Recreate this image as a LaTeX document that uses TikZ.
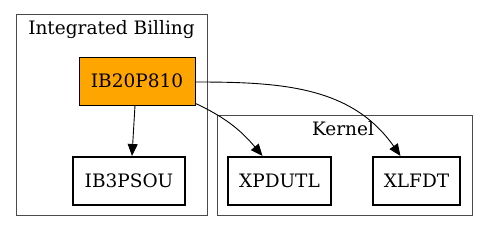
\documentclass[tikz,border=0pt]{standalone}
\usepackage{fontspec}
\setmainfont{DejaVu Serif}
\usepackage{xcolor}
\usepackage{tikz}
\usetikzlibrary{arrows.meta, positioning}

\definecolor{ibOrange}{HTML}{FFA500}
\definecolor{clusterGray}{HTML}{4A4A4A}

\begin{document}
\begin{tikzpicture}[x=1pt, y=-1pt, font=\fontsize{18.5}{21}\selectfont,
    modbox/.style={draw=black, line width=2pt, minimum height=48pt, inner sep=0pt},
    edge/.style={-{Triangle[length=12pt,width=10pt]}, line width=0.9pt},
    cluster/.style={draw=clusterGray, line width=1pt}]
    \useasboundingbox (0,0) rectangle (488,232);
    % clusters
    \draw[cluster] (16,15) rectangle (207,216);
    \node[anchor=base] (billing) at (111.5,35) {Integrated Billing};
    \draw[cluster] (217,116) rectangle (472,216);
    \node[anchor=base] (kernel) at (343,136) {Kernel};

    % modules
    \node[draw=black, fill=ibOrange, line width=0.8pt, minimum width=116pt, minimum height=48pt, inner sep=0pt] (ib20) at (137,81) {IB20P810};
    \node[modbox, minimum width=112pt] (ib3) at (129,181) {IB3PSOU};
    \node[modbox, minimum width=103pt] (xpd) at (279.5,181) {XPDUTL};
    \node[modbox, minimum width=87pt] (xlf) at (416.5,181) {XLFDT};

    % calls
    \draw[edge] ([xshift=-2pt]ib20.south) -- ([xshift=3pt]ib3.north);
    \draw[edge] ([yshift=2pt]ib20.south east) to[out=-25, in=130] ([xshift=-17pt]xpd.north);
    \draw[edge] ([yshift=-1pt]ib20.east) to[out=0, in=125] ([xshift=-16pt]xlf.north);
\end{tikzpicture}
\end{document}
